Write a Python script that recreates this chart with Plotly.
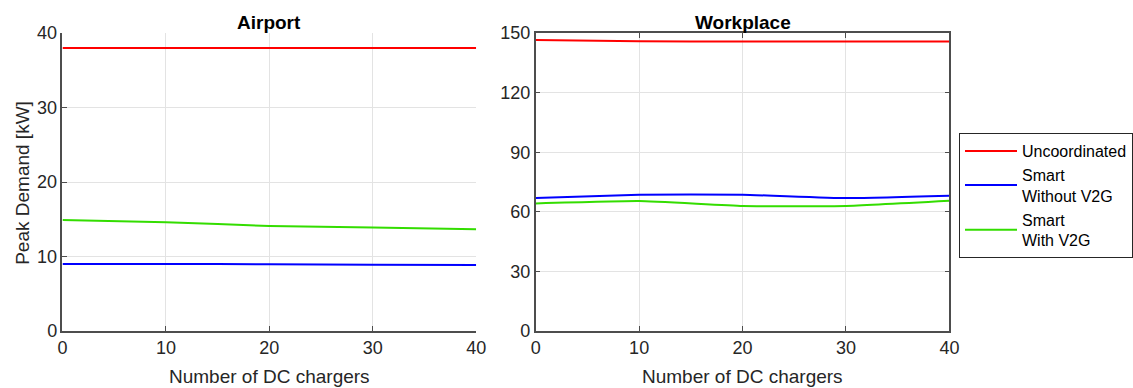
import plotly.graph_objects as go

# Number of DC chargers (x values shared by both panels)
chargers = [0, 10, 20, 30, 40]

# Airport peak demand [kW]
airport_uncoordinated = [38.0, 38.0, 38.0, 38.0, 38.0]
airport_smart_no_v2g = [9.0, 9.0, 8.95, 8.9, 8.85]
airport_smart_v2g = [14.9, 14.6, 14.1, 13.9, 13.65]

# Workplace peak demand [kW]
work_uncoordinated = [146.5, 145.8, 145.7, 145.7, 145.7]
work_smart_no_v2g = [66.9, 68.6, 68.6, 66.9, 68.1]
work_smart_v2g = [64.2, 65.4, 62.9, 62.9, 65.5]

series_names = ["Uncoordinated", "Smart<br>Without V2G", "Smart<br>With V2G"]
series_colors = ["#ff0000", "#0000ff", "#33dd00"]

W, H = 1133, 388
font_family = "Liberation Sans, Arial, sans-serif"
tick_color = "#262626"

fig = go.Figure()

panels = [
    ("x", "y", [airport_uncoordinated, airport_smart_no_v2g, airport_smart_v2g], True),
    ("x2", "y2", [work_uncoordinated, work_smart_no_v2g, work_smart_v2g], False),
]
for xa, ya, data, show in panels:
    for name, color, vals in zip(series_names, series_colors, data):
        fig.add_trace(go.Scatter(
            x=chargers, y=vals, mode="lines", name=name,
            line=dict(color=color, width=2, shape="spline", smoothing=0.4),
            xaxis=xa, yaxis=ya, showlegend=show,
        ))

def px_x(p):
    return p / W

def px_y(p):
    return 1 - p / H

def axis_style(mirror):
    return dict(
        showline=True, linecolor="#4d4d4d", linewidth=1.5, mirror=mirror,
        ticks="inside", ticklen=5, tickcolor="#4d4d4d",
        showgrid=True, gridcolor="#e3e3e3", gridwidth=1,
        zeroline=False, automargin=False,
        tickfont=dict(family=font_family, size=18, color=tick_color),
    )

L1, R1, L2, R2, TOP, BOT = 63, 480, 540, 957, 33, 331

def label(text, x, y, size, color=tick_color, angle=0, bold=False):
    return dict(text=f"<b>{text}</b>" if bold else text, x=px_x(x), y=px_y(y),
                xref="paper", yref="paper", xanchor="center", yanchor="middle",
                showarrow=False, textangle=angle,
                font=dict(family=font_family, size=size, color=color))

fig.update_layout(
    width=W, height=H,
    margin=dict(l=0, r=0, t=0, b=0),
    paper_bgcolor="white", plot_bgcolor="white",
    font=dict(family=font_family, color=tick_color),
    xaxis=dict(domain=[px_x(L1), px_x(R1)], range=[0, 40], dtick=10,
               anchor="y", **axis_style(False)),
    yaxis=dict(domain=[px_y(BOT), px_y(TOP)], range=[0, 40], dtick=10,
               anchor="x", **axis_style(False)),
    xaxis2=dict(domain=[px_x(L2), px_x(R2)], range=[0, 40], dtick=10,
                anchor="y2", **axis_style("ticks")),
    yaxis2=dict(domain=[px_y(BOT), px_y(TOP)], range=[0, 150], dtick=30,
                anchor="x2", **axis_style("ticks")),
    legend=dict(
        x=px_x(967), y=px_y(133), xanchor="left", yanchor="top",
        bordercolor="#262626", borderwidth=1, bgcolor="white",
        font=dict(family=font_family, size=16, color="#000000"),
        itemwidth=52, tracegroupgap=0,
    ),
    annotations=[
        label("Airport", (L1 + R1) / 2, 22, 19, color="black", bold=True),
        label("Workplace", (L2 + R2) / 2, 22, 19, color="black", bold=True),
        label("Number of DC chargers", (L1 + R1) / 2, 376, 19),
        label("Number of DC chargers", (L2 + R2) / 2, 376, 19),
        label("Peak Demand [kW]", 22, (TOP + BOT) / 2 + 1, 19, angle=-90),
    ],
)

fig.write_html("out.html")
